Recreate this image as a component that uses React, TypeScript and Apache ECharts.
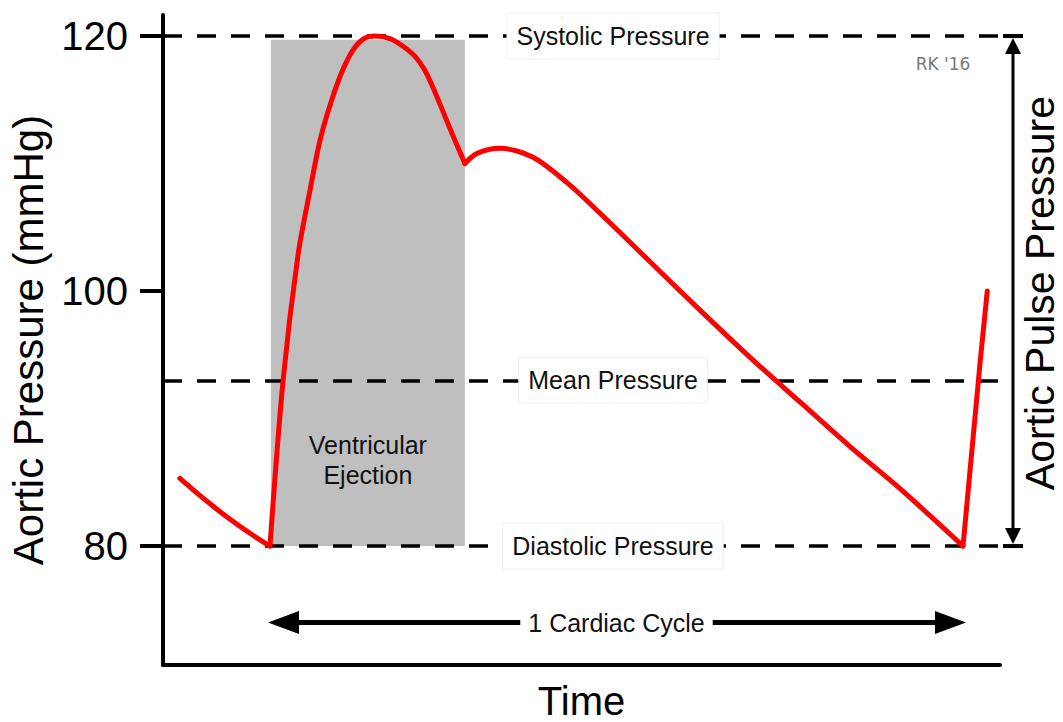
import React, { useEffect, useRef } from "react";
import * as echarts from "echarts";

// ---- axes (time in ms, pressure in mmHg)
const yTicks = [80, 100, 120];
const yRange = [70.67, 121.65];
const xRange = [-123.5, 842.7];

// ---- aortic pressure trace (time ms, mmHg)
const preEjection: number[][] = [
  [-104, 85.3],
  [-50, 82.3],
  [0, 80],
];
const ejection: number[][] = [
  [0, 80],
  [15, 92.9],
  [32.3, 102.8],
  [46.2, 107.9],
  [57.7, 111.8],
  [70.4, 114.8],
  [83.1, 117.2],
  [95.8, 118.9],
  [108.5, 119.8],
  [121.2, 120],
  [138.5, 119.8],
  [153.5, 119.2],
  [167.4, 118.4],
  [178.9, 117.3],
  [190.5, 115.6],
  [202, 113.7],
  [213.6, 111.8],
  [225, 110],
];
const diastole: number[][] = [
  [225, 110],
  [239, 110.8],
  [265.5, 111.2],
  [303.6, 110.5],
  [342.9, 108.5],
  [381, 106.1],
  [438.7, 102.3],
  [496.4, 98.5],
  [554.1, 94.8],
  [611.8, 91.3],
  [669.6, 87.8],
  [727.3, 84.5],
  [800, 80],
];
const nextUpstroke: number[][] = [
  [800, 80],
  [820, 94.6],
  [828, 100],
];

// ---- annotations
const pressureLevels = [
  { name: "Systolic Pressure", value: 120 },
  { name: "Mean Pressure", value: 93 },
  { name: "Diastolic Pressure", value: 80 },
];
const levelLabelTime = 396;
const ejectionWindow = [1, 225];
const ejectionTop = 119.7;
const cycle = [0, 800];
const cycleArrowLevel = 74;
const pulseRange = [80, 120];

const FONT = "'Liberation Sans', Arial, Helvetica, sans-serif";

export default function App() {
  const ref = useRef<HTMLDivElement>(null);

  useEffect(() => {
    document.body.style.margin = "0";
    const chart = echarts.init(ref.current!, null, { renderer: "svg" });
    const red = { color: "#ff0000", width: 5, cap: "round", join: "round" };
    const curve = (name: string, data: number[][], smooth: number | boolean) => ({
      type: "line",
      name,
      data,
      smooth,
      symbol: "none",
      lineStyle: red,
      z: 2,
      silent: true,
    });

    chart.setOption({
      animation: false,
      textStyle: { fontFamily: FONT },
      grid: { left: 163, right: 63, top: 15, bottom: 57, containLabel: false, outerBoundsMode: "none" },
      xAxis: {
        type: "value",
        min: xRange[0],
        max: xRange[1],
        axisLine: { show: true, onZero: false, lineStyle: { color: "#000", width: 4 } },
        axisTick: { show: false },
        axisLabel: { show: false },
        splitLine: { show: false },
        name: "Time",
        nameLocation: "middle",
        nameGap: 17,
        nameTextStyle: { fontSize: 40, lineHeight: 38, color: "#000", fontFamily: FONT },
      },
      yAxis: {
        type: "value",
        min: yRange[0],
        max: yRange[1],
        axisLine: { show: true, onZero: false, lineStyle: { color: "#000", width: 4 } },
        axisTick: {
          show: true,
          customValues: yTicks,
          length: 23,
          lineStyle: { color: "#000", width: 4 },
        },
        axisLabel: {
          show: true,
          customValues: yTicks,
          fontSize: 40,
          color: "#000",
          margin: 35,
          fontFamily: FONT,
        },
        splitLine: { show: false },
        name: "Aortic Pressure (mmHg)",
        nameLocation: "middle",
        nameGap: 114,
        nameTextStyle: { fontSize: 42, color: "#000", fontFamily: FONT },
      },
      series: [
        {
          type: "line",
          name: "levels",
          data: [],
          silent: true,
          markArea: {
            silent: true,
            z: 0,
            itemStyle: { color: "#bfbfbf", opacity: 1 },
            label: {
              show: true,
              position: ["50%", "83%"],
              align: "center",
              verticalAlign: "middle",
              fontSize: 25,
              lineHeight: 30,
              color: "#111",
              fontFamily: FONT,
            },
            data: [
              [
                { name: "Ventricular\nEjection", xAxis: ejectionWindow[0], yAxis: pulseRange[0] },
                { xAxis: ejectionWindow[1], yAxis: ejectionTop },
              ],
            ],
          },
          markLine: {
            silent: true,
            z: 1,
            symbol: ["none", "none"],
            label: { show: false },
            lineStyle: { type: [19, 15], color: "#000", width: 3.5 },
            data: pressureLevels.map((l) => ({ yAxis: l.value })),
          },
        },
        curve("pre", preEjection, 0.5),
        curve("ejection", ejection, 0.3),
        curve("diastole", diastole, 0.3),
        curve("upstroke", nextUpstroke, false),
        {
          type: "line",
          name: "annotations",
          data: [],
          silent: true,
          markLine: {
            silent: true,
            z: 3,
            symbol: ["none", "none"],
            lineStyle: { type: "solid", color: "#000", width: 5 },
            label: {
              show: true,
              position: "middle",
              formatter: "{b}",
              distance: 0,
              verticalAlign: "middle",
              fontSize: 25,
              color: "#111",
              backgroundColor: "#fff",
              padding: [6, 8],
              fontFamily: FONT,
            },
            data: [
              [
                { name: "1 Cardiac Cycle", coord: [cycle[0] + 8, cycleArrowLevel] },
                { coord: [cycle[1] - 8, cycleArrowLevel] },
              ],
            ],
          },
          markPoint: {
            silent: true,
            z: 10,
            symbol: "rect",
            symbolSize: 1,
            itemStyle: { color: "rgba(0,0,0,0)" },
            label: {
              show: true,
              position: "inside",
              formatter: "{b}",
              fontSize: 25,
              color: "#111",
              backgroundColor: "#fff",
              borderColor: "#eeeeee",
              borderWidth: 1,
              padding: [10, 9],
              fontFamily: FONT,
            },
            data: pressureLevels.map((l) => ({
              name: l.name,
              coord: [levelLabelTime, l.value],
            })),
          },
        },
      ],
    });

    const yTop = chart.convertToPixel({ yAxisIndex: 0 }, pulseRange[1]) as number;
    const yBot = chart.convertToPixel({ yAxisIndex: 0 }, pulseRange[0]) as number;
    const cL = chart.convertToPixel({ gridIndex: 0 }, [cycle[0], cycleArrowLevel]) as number[];
    const cR = chart.convertToPixel({ gridIndex: 0 }, [cycle[1], cycleArrowLevel]) as number[];
    const ax = 1013;
    chart.setOption({
      graphic: [
        {
          type: "polygon",
          silent: true,
          z: 20,
          shape: { points: [[cL[0] - 2, cL[1]], [cL[0] + 29, cL[1] - 11.5], [cL[0] + 29, cL[1] + 11.5]] },
          style: { fill: "#000" },
        },
        {
          type: "polygon",
          silent: true,
          z: 20,
          shape: { points: [[cR[0] + 3, cR[1]], [cR[0] - 28, cR[1] - 11.5], [cR[0] - 28, cR[1] + 11.5]] },
          style: { fill: "#000" },
        },
        {
          type: "line",
          silent: true,
          shape: { x1: ax, y1: yTop + 10, x2: ax, y2: yBot - 10 },
          style: { stroke: "#000", lineWidth: 3 },
        },
        {
          type: "line",
          silent: true,
          shape: { x1: ax - 10, y1: yTop, x2: ax + 10, y2: yTop },
          style: { stroke: "#000", lineWidth: 4 },
        },
        {
          type: "line",
          silent: true,
          shape: { x1: ax - 10, y1: yBot, x2: ax + 10, y2: yBot },
          style: { stroke: "#000", lineWidth: 4 },
        },
        {
          type: "polygon",
          silent: true,
          shape: { points: [[ax, yTop + 2], [ax - 8, yTop + 18], [ax + 8, yTop + 18]] },
          style: { fill: "#000" },
        },
        {
          type: "polygon",
          silent: true,
          shape: { points: [[ax, yBot - 2], [ax - 8, yBot - 18], [ax + 8, yBot - 18]] },
          style: { fill: "#000" },
        },
        {
          type: "text",
          silent: true,
          x: 1040,
          y: (yTop + yBot) / 2 + 2,
          rotation: Math.PI / 2,
          style: {
            text: "Aortic Pulse Pressure",
            fontSize: 41,
            fill: "#000",
            align: "center",
            verticalAlign: "middle",
            fontFamily: FONT,
          },
        },
        {
          type: "text",
          silent: true,
          x: 943,
          y: 64,
          style: {
            text: "RK '16",
            fontSize: 17,
            fill: "#777",
            align: "center",
            verticalAlign: "middle",
            fontFamily: "'DejaVu Sans', sans-serif",
          },
        },
      ],
    });

    return () => chart.dispose();
  }, []);

  return (
    <div
      ref={ref}
      style={{ position: "fixed", left: 0, top: 0, width: 1063, height: 722, background: "#fff" }}
    />
  );
}
